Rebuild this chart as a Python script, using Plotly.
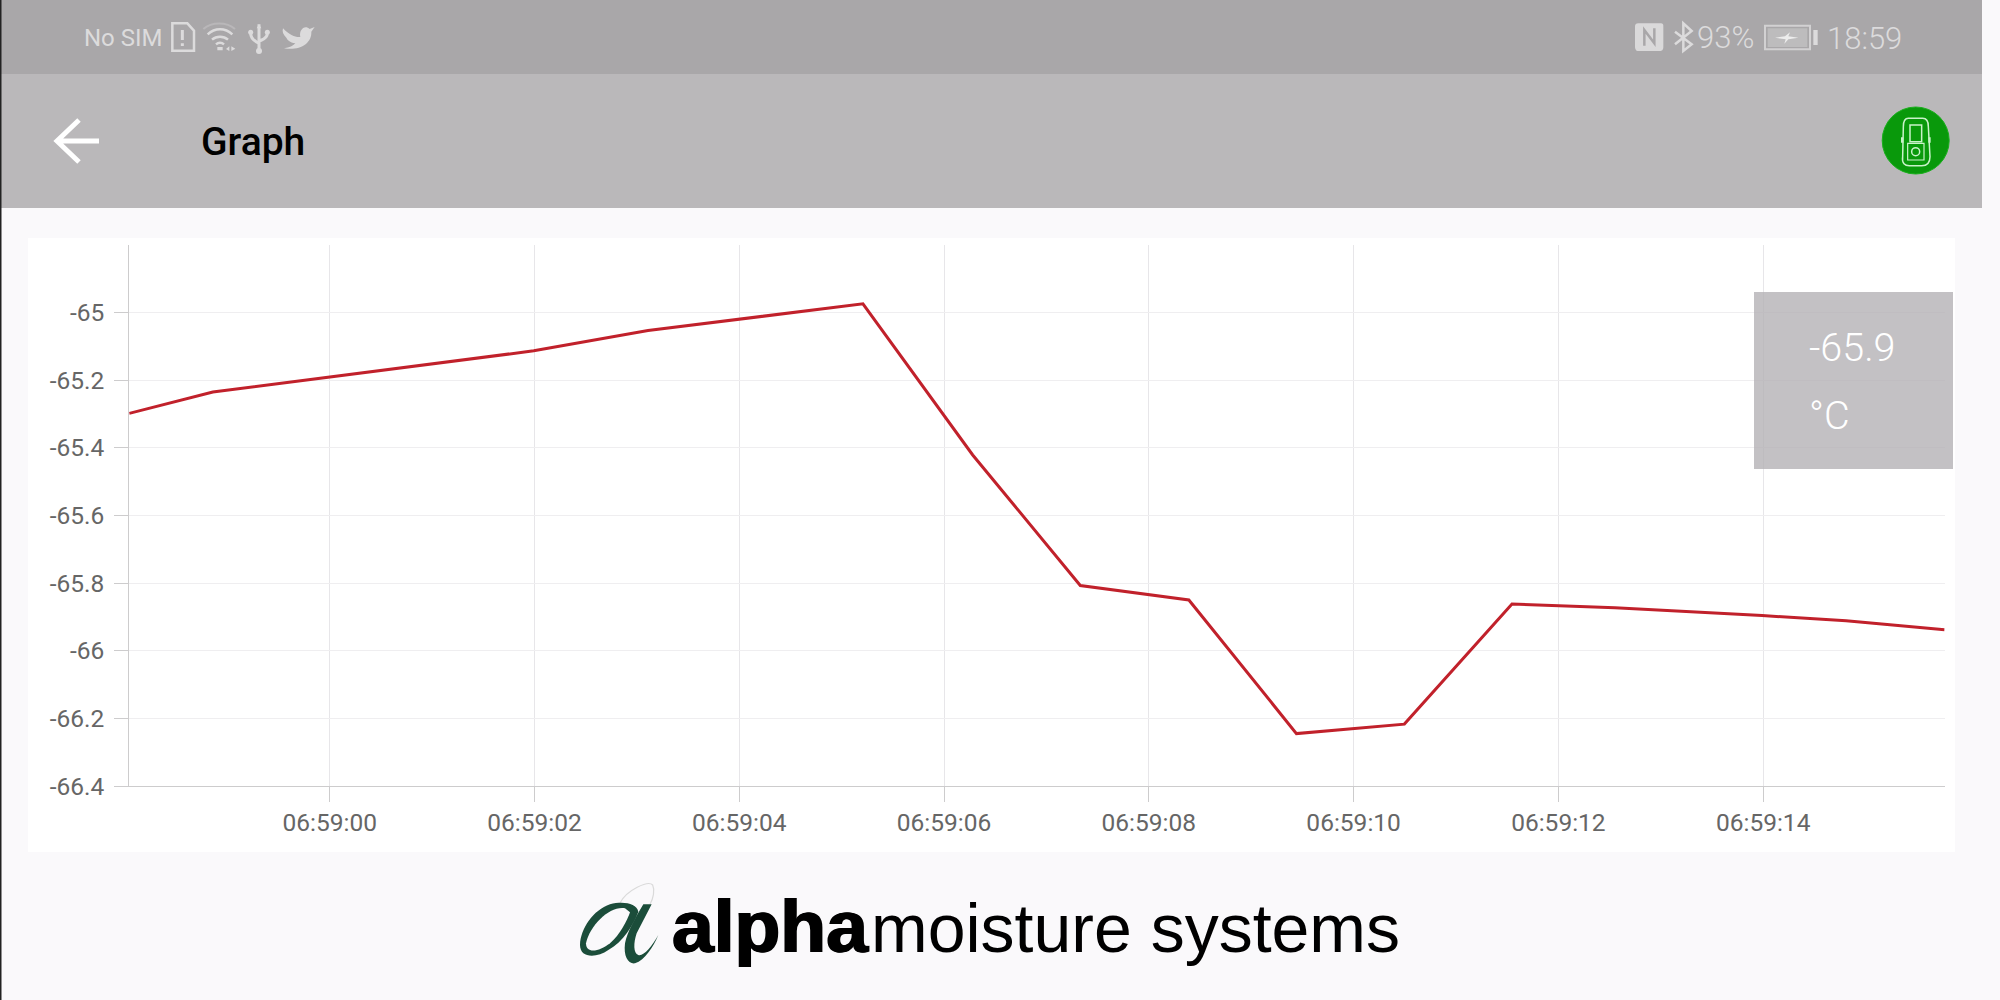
import re
import plotly.graph_objects as go

DAY = "2021-01-01 "
times = ["06:58:58.042", "06:58:58.859", "06:59:01.993", "06:59:03.109", "06:59:05.208",
         "06:59:06.280", "06:59:07.331", "06:59:08.391", "06:59:09.442", "06:59:10.496",
         "06:59:11.547", "06:59:12.552", "06:59:13.989", "06:59:14.810", "06:59:15.772"]
dew_point = [-65.298, -65.235, -65.113, -65.053, -64.974,
             -65.421, -65.807, -65.850, -66.245, -66.217,
             -65.862, -65.873, -65.896, -65.911, -65.938]
x_tick_labels = ["06:59:00", "06:59:02", "06:59:04", "06:59:06",
                 "06:59:08", "06:59:10", "06:59:12", "06:59:14"]
y_ticks = [-66.4, -66.2, -66.0, -65.8, -65.6, -65.4, -65.2, -65.0]
y_tick_labels = ["-66.4", "-66.2", "-66", "-65.8", "-65.6", "-65.4", "-65.2", "-65"]
x_range = ["06:58:58.042", "06:59:15.772"]
y_range = [-66.4, -64.8]

W, H = 2000, 1000
FIG_HEIGHT = 1015
LIGHT = "#DCDBDC"


def P(path, sx=1.0, sy=1.0, ox=0.0, oy=0.0):
    """Decoration path, given in pixels, to paper coordinates."""
    out, is_x = [], True
    for tok in re.findall(r"[A-Za-z]|-?[\d.]+", path):
        if tok.isalpha():
            out.append(tok)
        elif is_x:
            out.append(f"{(float(tok) * sx + ox) / W:.5f}")
            is_x = False
        else:
            out.append(f"{1 - (float(tok) * sy + oy) / H:.5f}")
            is_x = True
    return " ".join(out)


shapes = []


def box(x0, y0, x1, y1, fill, layer="below"):
    shapes.append(dict(type="rect", xref="paper", yref="paper", x0=x0 / W, x1=x1 / W,
                       y0=1 - y0 / H, y1=1 - y1 / H, fillcolor=fill, line_width=0, layer=layer))


def path(d, fill=None, color=None, width=0, layer="above", **t):
    shapes.append(dict(type="path", xref="paper", yref="paper", path=P(d, **t),
                       fillcolor=fill or "rgba(0,0,0,0)",
                       line=dict(color=color or "rgba(0,0,0,0)", width=width), layer=layer))


def circle(cx, cy, r, fill=None, color=None, width=0):
    shapes.append(dict(type="circle", xref="paper", yref="paper", x0=(cx - r) / W, x1=(cx + r) / W,
                       y0=1 - (cy + r) / H, y1=1 - (cy - r) / H, fillcolor=fill or "rgba(0,0,0,0)",
                       line=dict(color=color or "rgba(0,0,0,0)", width=width), layer="above"))


# page furniture
box(0, 0, W, H, "#FAF9FB")
box(0, 0, 1982, 74, "#A9A7A9")
box(0, 74, 1982, 208, "#BAB8BA")
box(0, 0, 1.5, H, "#222222")
box(28, 238, 1955, 852, "#FFFFFF")
box(1754, 292, 1953, 469, "rgba(178,175,179,0.78)", layer="above")

# back arrow
path("M 99 141 L 57 141 M 79 120 L 57 141 L 79 162", color="#FFFFFF", width=5)

# status-bar icons, drawn in zoomed crop coordinates
left = dict(sx=1 / 3, sy=1 / 3, ox=160, oy=15)
path("M 37 25 L 82 25 L 102 47 L 102 107 L 37 107 Z", color=LIGHT, width=2.5, **left)
path("M 67 45 L 67 75 M 67 85 L 67 93", color=LIGHT, width=3, **left)
path("M 130 42 C 155 20 200 20 225 42", color="#B9B7B9", width=2, **left)
path("M 143 58 C 165 38 195 38 217 58 M 156 74 C 170 62 190 62 204 74 M 168 88 C 175 82 185 82 192 88",
     color=LIGHT, width=2.5, **left)
path("M 172 96 L 188 96 L 188 106 L 172 106 Z M 198 102 L 208 94 L 208 108 Z M 214 94 L 226 101 L 214 108 Z",
     fill=LIGHT, **left)
path("M 297 28 L 297 110 M 272 55 C 272 80 297 80 297 88 M 322 55 C 322 75 297 75 297 80",
     color=LIGHT, width=3, **left)
path("M 290 40 L 297 28 L 304 40 Z", fill=LIGHT, **left)
circle(160 + 272 / 3, 15 + 52 / 3, 2.5, fill=LIGHT)
circle(160 + 322 / 3, 15 + 52 / 3, 2.5, fill=LIGHT)
circle(160 + 297 / 3, 15 + 108 / 3, 3, fill=LIGHT)
path("M 375 40 C 395 62 415 68 427 66 C 422 45 440 28 455 42 L 470 36 L 460 50 C 462 85 425 108 378 100 "
     "C 395 98 405 92 412 85 C 395 82 388 75 385 68 C 375 58 372 50 375 40 Z", fill=LIGHT,
     sx=1 / 3, sy=1 / 3, ox=158, oy=15)

right = dict(sx=1 / 3, sy=1 / 3, ox=1625, oy=15)
path("M 40 25 L 105 25 C 115 25 115 30 115 35 L 115 95 C 115 105 110 108 105 108 L 40 108 "
     "C 32 108 30 100 30 95 L 30 35 C 30 30 32 25 40 25 Z", fill="#DAD9DA", **right)
path("M 58 92 L 58 45 L 88 85 L 88 40", color="#A9A7A9", width=2.5, **right)
path("M 150 50 L 200 88 L 175 108 L 175 25 L 200 48 L 150 88", color=LIGHT, width=2.5, **right)
path("M 420 32 L 555 32 L 555 103 L 420 103 Z", color="#D2D1D2", width=2, **right)
path("M 428 40 L 547 40 L 547 96 L 428 96 Z", fill="#BDBCBD", **right)
path("M 565 45 L 578 45 L 578 90 L 565 90 Z", fill=LIGHT, **right)
path("M 450 68 L 480 64 L 495 52 L 490 64 L 520 68 L 490 73 L 478 86 L 482 73 Z", fill="#EDEDED", **right)

# green device badge
circle(1915.7, 140.5, 33.5, fill="#09990B", color="#19B01C", width=1)
dev = dict(sx=1 / 3, sy=1 / 3, ox=1550, oy=0)
path("M 1075 355 L 1118 355 C 1132 355 1135 368 1135 380 L 1140 470 C 1140 490 1128 497 1115 497 "
     "L 1078 497 C 1065 497 1055 490 1058 470 L 1060 380 C 1060 368 1063 355 1075 355 Z",
     color="#C9F2C9", width=1.5, **dev)
path("M 1080 375 L 1115 375 L 1115 425 L 1080 425 Z", color="#C9F2C9", width=1.5, **dev)
path("M 1073 430 L 1122 430 L 1122 480 L 1073 480 Z", color="#C9F2C9", width=1.2, **dev)
path("M 1053 412 L 1060 412 L 1060 428 L 1053 428 Z M 1135 412 L 1142 412 L 1142 428 L 1135 428 Z",
     fill="#C9F2C9", **dev)
circle(1550 + 1097 / 3, 455 / 3, 4, color="#C9F2C9", width=1.5)

# logo mark
logo = dict(sx=1 / 3, sy=1 / 3, ox=570, oy=875)
path("M 150 84 C 170 45 235 15 248 30 C 255 45 250 70 240 88", color="#DADADA", width=1.2, **logo)
path("M 120 88 C 160 78 200 85 205 110 C 190 150 160 200 115 225 C 80 250 30 250 30 210 "
     "C 32 160 70 105 120 88 Z", fill="#1B4D3A", **logo)
path("M 165 100 C 120 92 60 150 48 205 C 48 238 88 230 120 205 C 150 180 172 135 180 112 Z",
     fill="#FAF9FB", **logo)
path("M 245 88 L 220 88 C 195 130 172 170 165 205 C 160 245 175 268 195 265 C 225 255 250 215 265 180 "
     "C 245 215 220 245 205 240 C 190 235 190 205 200 175 Z", fill="#1B4D3A", **logo)


def label(text, x, y, size, color="#000000", anchor="left", weight=400, family="Roboto", shadow=None):
    font = dict(family=family, size=size, color=color, weight=weight)
    if shadow:
        font["shadow"] = shadow
    return dict(text=text, x=x / W, y=1 - y / H, xref="paper", yref="paper", xanchor=anchor,
                yanchor="middle", showarrow=False, font=font, borderpad=0, borderwidth=0)


annotations = [
    label("No SIM", 84, 38, 24, LIGHT),
    label("Graph", 201, 142, 39, "#000000", weight=500),
    label("93%", 1697, 37, 31, LIGHT, weight=300),
    label("18:59", 1827, 38, 31, LIGHT, weight=300),
    label("-65.9", 1809, 347, 39.5, "#FFFFFF", weight=300),
    label("°C", 1809, 416, 39.5, "#FFFFFF", weight=300),
    label("alpha", 672, 926, 75, "#000000", weight=700, family="Liberation Sans",
          shadow="1px 0 0 #000, -1px 0 0 #000"),
    label("moisture systems", 871, 928, 68, "#000000", family="Liberation Sans"),
]

fig = go.Figure(go.Scatter(x=[DAY + t for t in times], y=dew_point, mode="lines",
                           line=dict(color="#C1212B", width=3), hoverinfo="skip"))
fig.update_layout(
    width=W, height=FIG_HEIGHT, margin=dict(l=0, r=0, t=0, b=0), showlegend=False,
    paper_bgcolor="#FFFFFF", plot_bgcolor="rgba(0,0,0,0)",
    font=dict(family="Roboto", size=24.5, color="#666666"),
    shapes=shapes, annotations=annotations,
    xaxis=dict(type="date", domain=[129.2 / W, 1944.6 / W], range=[DAY + t for t in x_range],
               tickvals=[DAY + t for t in x_tick_labels], ticktext=x_tick_labels,
               ticks="outside", ticklen=15, tickwidth=1, tickcolor="#CDCCCD",
               showgrid=True, gridcolor="#E7E6E9", gridwidth=1,
               showline=True, linecolor="#CDCCCD", linewidth=1, zeroline=False,
               tickfont=dict(family="Roboto", size=24.5, color="#666666")),
    yaxis=dict(domain=[1 - 786 / H, 1 - 245 / H], range=y_range,
               tickvals=y_ticks, ticktext=y_tick_labels,
               ticks="outside", ticklen=14, tickwidth=1, tickcolor="#CDCCCD", ticklabelstandoff=5,
               showgrid=True, gridcolor="#EFEEF0", gridwidth=1,
               showline=True, linecolor="#CDCCCD", linewidth=1, zeroline=False,
               tickfont=dict(family="Roboto", size=24.5, color="#666666")),
)
fig.write_html("out.html", config=dict(displayModeBar=False, responsive=False),
               post_script="document.body.style.margin='0';document.body.style.overflow='hidden';")
